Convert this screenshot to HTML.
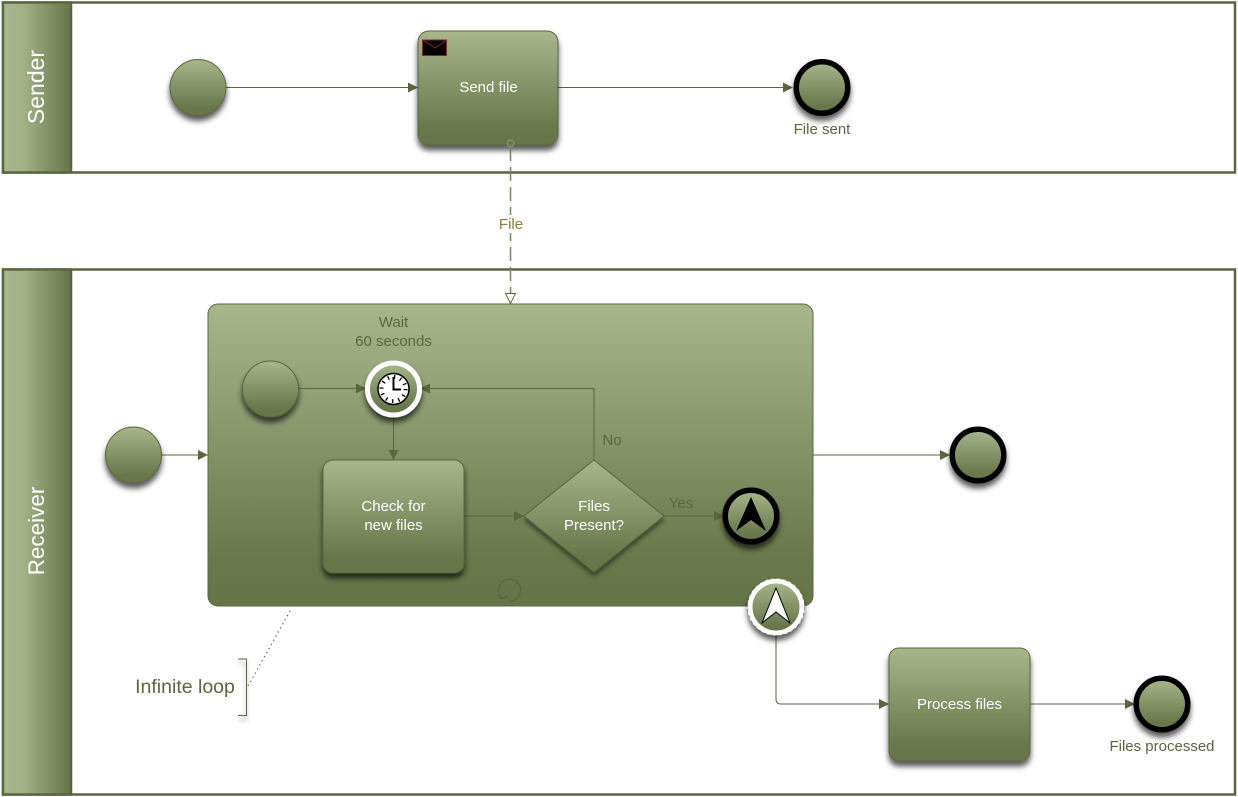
<!DOCTYPE html>
<html><head><meta charset="utf-8"><style>html,body{margin:0;padding:0;background:#fff;width:1238px;height:797px;overflow:hidden}svg{display:block}text{font-family:"Liberation Sans",sans-serif}</style></head><body>
<svg width="1238" height="797" viewBox="0 0 1238 797" xmlns="http://www.w3.org/2000/svg">
<defs>
<linearGradient id="g" x1="0" y1="0" x2="0" y2="1"><stop offset="0" stop-color="#a8b78b"/><stop offset="0.85" stop-color="#69784b"/><stop offset="1" stop-color="#667548"/></linearGradient>
<linearGradient id="h" x1="0" y1="0" x2="1" y2="0"><stop offset="0" stop-color="#a8b78b"/><stop offset="0.3" stop-color="#a3b286"/><stop offset="1" stop-color="#667548"/></linearGradient>
<filter id="s" x="-30%" y="-30%" width="160%" height="170%"><feDropShadow dx="0" dy="5" stdDeviation="3" flood-color="#000" flood-opacity="0.65"/></filter>
<filter id="s2" x="-30%" y="-30%" width="160%" height="170%"><feDropShadow dx="0" dy="4" stdDeviation="2.5" flood-color="#000" flood-opacity="0.45"/></filter>
</defs>
<rect x="3" y="2.5" width="1232" height="170" fill="#fff" stroke="#5a6640" stroke-width="2.5"/>
<rect x="3" y="2.5" width="68" height="170" fill="url(#h)" stroke="#5a6640" stroke-width="2.5"/>
<text transform="translate(44,87) rotate(-90)" text-anchor="middle" font-size="23" fill="#fff">Sender</text>
<rect x="3" y="269.5" width="1232" height="525" fill="#fff" stroke="#5a6640" stroke-width="2.5"/>
<rect x="3" y="269.5" width="68" height="525" fill="url(#h)" stroke="#5a6640" stroke-width="2.5"/>
<text transform="translate(44,531) rotate(-90)" text-anchor="middle" font-size="22.5" fill="#fff">Receiver</text>
<g fill="none" stroke="#5a6640" stroke-width="1">
<path d="M226 87.5H410M558 87.5H785M162 455H200M813 455H942M1030 704H1127M776 634V699Q776 704 781 704H881"/>
</g>
<path d="M418 87.5l-10-5v10zM793 87.5l-10-5v10zM208 455l-10-5v10zM950 455l-10-5v10zM1135 704l-10-5v10zM889 704l-10-5v10z" fill="#5a6640"/>
<circle cx="198" cy="87.5" r="28" fill="url(#g)" stroke="#5a6640" filter="url(#s)"/>
<rect x="418" y="31" width="140" height="114" rx="11" fill="url(#g)" stroke="#5a6640" filter="url(#s)"/>
<rect x="422.500" y="40" width="24" height="15.500" fill="#000" stroke="#7a2a30"/>
<path d="M423 40l12 8 12-8" fill="none" stroke="#7a2a30"/>
<text x="488.500" y="92" text-anchor="middle" font-size="15" fill="#fff">Send file</text>
<circle cx="822" cy="87.500" r="25.750" fill="url(#g)" stroke="#000" stroke-width="5.500" filter="url(#s)"/>
<text x="822" y="134" text-anchor="middle" font-size="15" fill="#5a6640">File sent</text>
<circle cx="133.500" cy="455" r="28" fill="url(#g)" stroke="#5a6640" filter="url(#s)"/>
<rect x="208" y="304" width="605" height="302" rx="10" fill="url(#g)" stroke="#5a6640"/>
<circle cx="270.500" cy="389" r="28" fill="url(#g)" stroke="#5a6640" filter="url(#s)"/>
<g fill="none" stroke="#5a6640" stroke-width="1">
<path d="M299 388.500H358M594 460V388.500H428M393.500 415V452M464 516H516M664 516H716"/>
</g>
<path d="M366 388.500l-10-5v10zM420 388.500l10-5v10zM393.500 460l-5-10h10zM524 516l-10-5v10zM724 516l-10-5v10z" fill="#5a6640"/>
<text x="393.500" y="327" text-anchor="middle" font-size="15" fill="#5a6640">Wait</text>
<text x="393.500" y="346" text-anchor="middle" font-size="15" fill="#5a6640">60 seconds</text>
<circle cx="393.500" cy="389" r="26" fill="url(#g)" stroke="#fff" stroke-width="5" filter="url(#s)"/>
<circle cx="393.500" cy="389" r="15.500" fill="#fff" stroke="#000" stroke-width="1.500"/>
<circle cx="393.500" cy="389" r="12" fill="none" stroke="#000" stroke-width="4" stroke-dasharray="1.300 5"/>
<path d="M393.500 377V389.500H401" fill="none" stroke="#000" stroke-width="2"/>
<rect x="323" y="460" width="141" height="113" rx="10" fill="url(#g)" stroke="#5a6640" filter="url(#s)"/>
<text x="393.500" y="511" text-anchor="middle" font-size="15" fill="#fff">Check for</text>
<text x="393.500" y="530" text-anchor="middle" font-size="15" fill="#fff">new files</text>
<path d="M594 460L664 516 594 572 524 516z" fill="url(#g)" stroke="#5a6640" filter="url(#s2)"/>
<text x="594" y="511" text-anchor="middle" font-size="15" fill="#fff">Files</text>
<text x="594" y="530" text-anchor="middle" font-size="15" fill="#fff">Present?</text>
<text x="612" y="445" text-anchor="middle" font-size="15" fill="#5a6640">No</text>
<text x="681" y="508" text-anchor="middle" font-size="15" fill="#5a6640">Yes</text>
<circle cx="751" cy="516" r="25.750" fill="url(#g)" stroke="#000" stroke-width="5.500" filter="url(#s)"/>
<path d="M751 497L766 531 751 520 736 531z" fill="#000"/>
<circle cx="776" cy="607" r="26" fill="url(#g)" stroke="#fff" stroke-width="5" filter="url(#s)"/>
<circle cx="776" cy="607" r="28.500" fill="none" stroke="#5a6640" stroke-width="0.600" stroke-dasharray="3 3"/>
<path d="M776 588L790 623 776 612 762 623z" fill="#fff" stroke="#000"/>
<path d="M502 598A11 11 0 1 1 509 601M497 594L502 599 508 596" fill="none" stroke="#56633c"/>
<path d="M290 611L248 686" fill="none" stroke="#5a6640" stroke-width="1.300" stroke-dasharray="1.200 3.500"/>
<path d="M238 659H246.500V715.500H238" fill="none" stroke="#5a6640" filter="url(#s2)"/>
<text x="185" y="693" text-anchor="middle" font-size="19.500" fill="#5a6640">Infinite loop</text>
<rect x="889" y="648" width="141" height="113" rx="10" fill="url(#g)" stroke="#5a6640" filter="url(#s)"/>
<text x="959.500" y="709" text-anchor="middle" font-size="15" fill="#fff">Process files</text>
<circle cx="978" cy="455" r="25.750" fill="url(#g)" stroke="#000" stroke-width="5.500" filter="url(#s)"/>
<circle cx="1162" cy="704" r="25.750" fill="url(#g)" stroke="#000" stroke-width="5.500" filter="url(#s)"/>
<text x="1162" y="751" text-anchor="middle" font-size="15" fill="#5a6640">Files processed</text>
<path d="M510.500 147V294" fill="none" stroke="#76855a" stroke-width="1.500" stroke-dasharray="14 6"/>
<path d="M510.500 303.500l-5-10h10z" fill="#fff" stroke="#5a6640"/>
<circle cx="510.500" cy="143.500" r="3.500" fill="#6b7a4d" stroke="#8a9870"/>
<rect x="498" y="215" width="25" height="18" fill="#fff"/>
<text x="511" y="229" text-anchor="middle" font-size="15" fill="#8a7d3c">File</text>
</svg>
</body></html>
